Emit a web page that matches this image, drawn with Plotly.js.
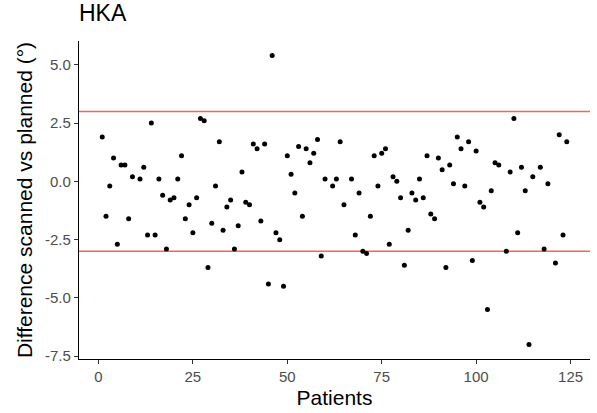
<!DOCTYPE html>
<html>
<head>
<meta charset="utf-8">
<script src="https://cdn.plot.ly/plotly-3.0.1.min.js"></script>
<style>html,body{margin:0;padding:0;background:#fff;}#chart{width:597px;height:413px;}</style>
</head>
<body>
<div id="chart"></div>
<script>
const patients = [1,2,3,4,5,6,7,8,9,11,12,13,14,15,16,17,18,19,20,21,22,23,24,25,26,27,28,29,
  30,31,32,33,34,35,36,37,38,39,40,41,42,43,44,45,46,47,48,49,50,51,52,53,54,55,56,57,58,59,60,
  62,63,64,65,67,68,69,70,71,72,73,74,75,76,77,78,79,80,81,82,83,84,85,86,87,88,89,90,91,92,93,
  94,95,96,97,98,99,100,101,102,103,104,105,106,108,109,110,111,112,113,114,115,117,118,119,121,122,123,124];
const diffs = [1.9,-1.5,-0.2,1.0,-2.7,0.7,0.7,-1.6,0.2,0.1,0.6,-2.3,2.5,-2.3,0.1,-0.6,-2.9,-0.8,-0.7,0.1,1.1,-1.6,-1.0,-2.2,-0.7,2.7,2.6,-3.7,
  -1.8,-0.2,1.7,-2.1,-1.1,-0.8,-2.9,-1.9,0.4,-0.9,-1.0,1.6,1.4,-1.7,1.6,-4.4,5.4,-2.2,-2.5,-4.5,1.1,0.3,-0.5,1.5,-1.5,1.4,0.8,1.2,1.8,-3.2,0.1,
  -0.2,0.1,1.7,-1.0,0.1,-2.3,-0.5,-3.0,-3.1,-1.5,1.1,-0.2,1.2,1.4,-2.7,0.2,0.0,-0.7,-3.6,-2.1,-0.5,-0.8,0.1,-0.7,1.1,-1.4,-1.6,1.0,0.5,-3.7,0.7,
  -0.1,1.9,1.4,-0.2,1.7,-3.4,1.3,-0.9,-1.1,-5.5,-0.4,0.8,0.7,-3.0,0.4,2.7,-2.2,0.6,-0.4,-7.0,0.2,0.6,-2.9,-0.1,-3.5,2.0,-2.3,1.7];
const limits = [3, -3];
const yTickVals = [5, 2.5, 0, -2.5, -5, -7.5];
const yTickText = ["5.0", "2.5", "0.0", "-2.5", "-5.0", "-7.5"];
const xTickVals = [0, 25, 50, 75, 100, 125];

const font = "Liberation Sans, Arial, sans-serif";
const trace = {
  x: patients, y: diffs, type: 'scatter', mode: 'markers',
  marker: {color: '#000000', size: 5}, hoverinfo: 'x+y'
};
const shapes = limits.map(v => ({
  type: 'line', xref: 'paper', x0: 0, x1: 1, yref: 'y', y0: v, y1: v,
  line: {color: 'rgb(255,95,95)', width: 1.5}, layer: 'below'
}));
const layout = {
  width: 597, height: 413,
  margin: {l: 79, r: 7, t: 41, b: 54},
  paper_bgcolor: '#ffffff', plot_bgcolor: '#ffffff',
  showlegend: false,
  font: {family: font, color: '#000'},
  title: {text: 'HKA', x: 0, xref: 'paper', xanchor: 'left', y: 1, yref: 'container', yanchor: 'top', pad: {t: 5, l: 0},
    font: {family: font, size: 23, color: '#000'}},
  xaxis: {
    range: [-5.15, 130.15], tickvals: xTickVals, ticktext: xTickVals.map(String),
    showgrid: false, zeroline: false, showline: true, linecolor: '#000', linewidth: 1.1,
    ticks: 'outside', ticklen: 4, tickcolor: '#333', tickwidth: 1.1,
    tickfont: {family: font, size: 15, color: '#4d4d4d'},
    title: {text: 'Patients', font: {family: font, size: 21, color: '#000'}, standoff: 6}
  },
  yaxis: {
    range: [-7.62, 6.02], tickvals: yTickVals, ticktext: yTickText,
    showgrid: false, zeroline: false, showline: true, linecolor: '#000', linewidth: 1.1,
    ticks: 'outside', ticklen: 4, tickcolor: '#333', tickwidth: 1.1,
    tickfont: {family: font, size: 15, color: '#4d4d4d'},
    title: {text: 'Difference scanned vs planned (°)', font: {family: font, size: 21, color: '#000'}, standoff: 6}
  },
  shapes: shapes
};
Plotly.newPlot('chart', [trace], layout, {displayModeBar: false, staticPlot: true});
</script>
</body>
</html>
